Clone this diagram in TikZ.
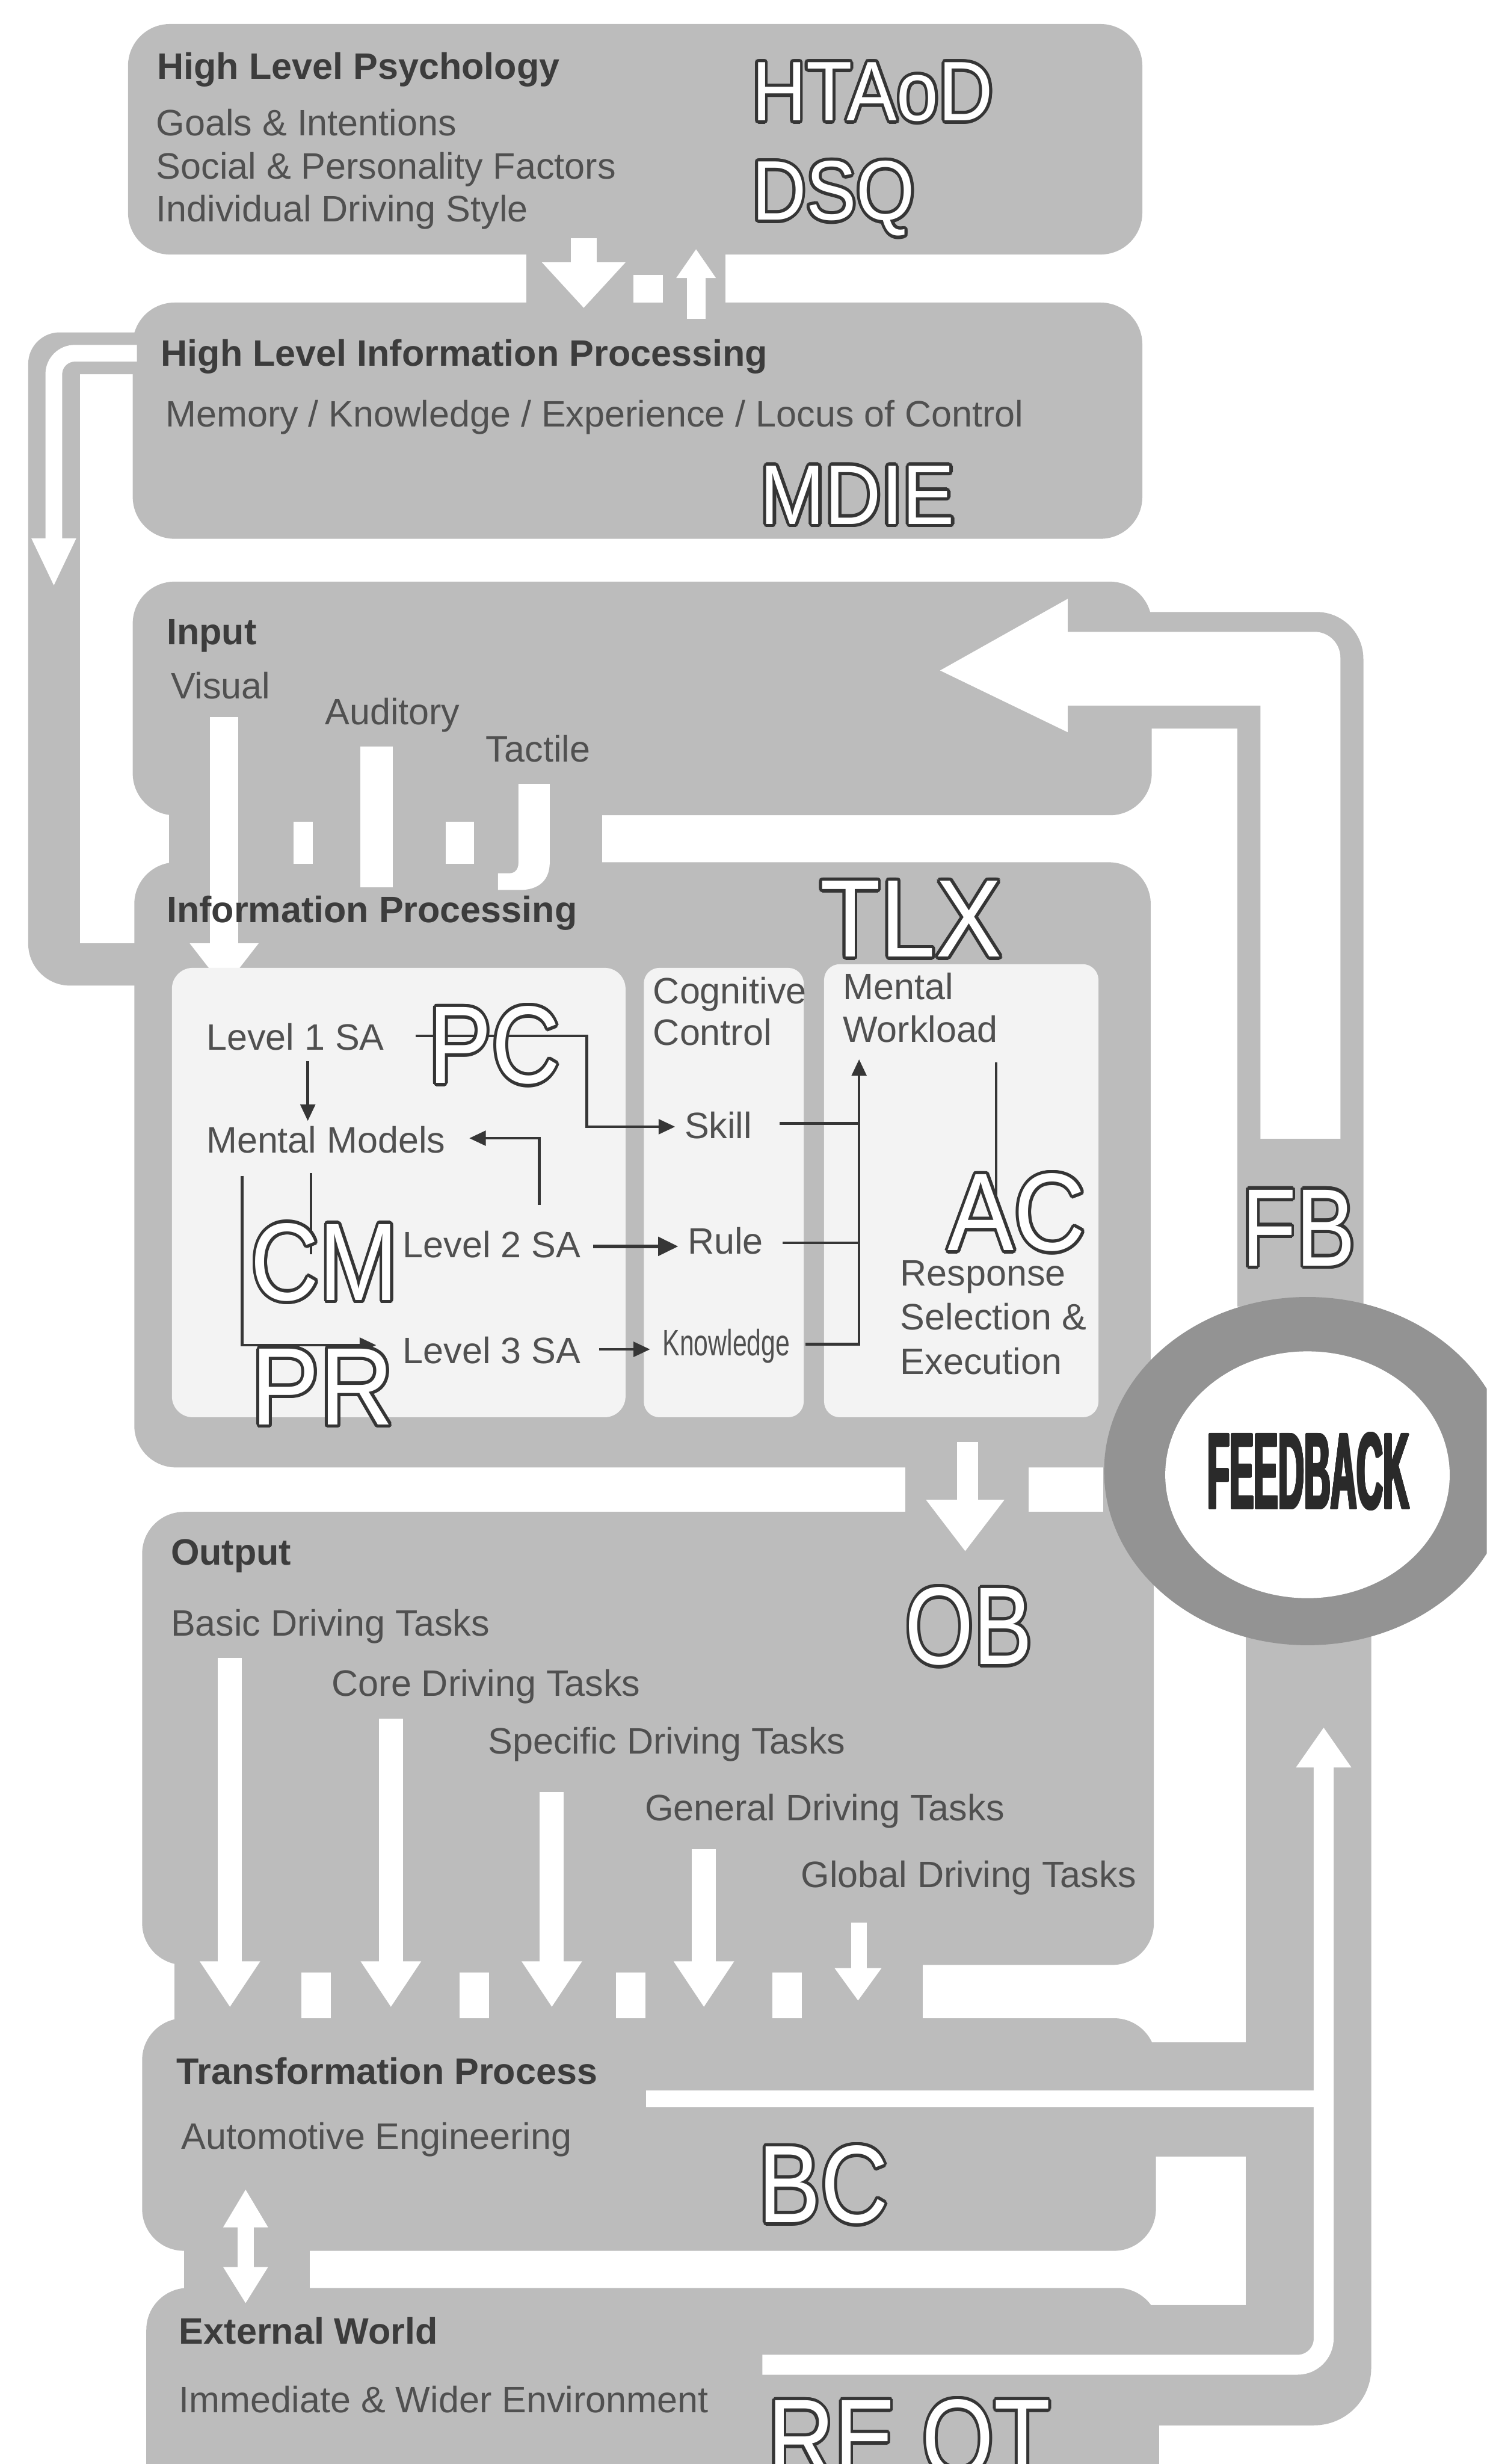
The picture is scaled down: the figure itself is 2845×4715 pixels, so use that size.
\documentclass[tikz,border=0pt]{standalone}
\usepackage{fontspec}
\setmainfont{Liberation Sans}
\usepackage{contour}
\usetikzlibrary{arrows.meta}
\definecolor{boxgrey}{HTML}{BCBCBC}
\definecolor{innerw}{HTML}{F3F3F3}
\definecolor{ringgrey}{HTML}{939393}
\definecolor{txt}{HTML}{505050}
\definecolor{ttltxt}{HTML}{3C3C3C}
\definecolor{lnk}{HTML}{363636}
\definecolor{outl}{HTML}{353535}
\definecolor{fbtxt}{HTML}{2A2A2A}
\contourlength{1.8pt}
\newcommand{\mkhollow}[2]{\scalebox{#1}[1]{\color{white}\contour{outl}{#2}}}
\begin{document}
\begin{tikzpicture}[x=0.01cm,y=-0.01cm,
  greybox/.style={fill=boxgrey, rounded corners=0.8cm},
  innerbox/.style={fill=innerw, rounded corners=0.4cm},
  lbl/.style={anchor=base west, inner sep=0pt, outer sep=0pt, text=txt, font=\fontsize{20}{24}\selectfont},
  ttl/.style={anchor=base west, inner sep=0pt, outer sep=0pt, text=ttltxt, font=\fontsize{20}{24}\selectfont\bfseries},
  biglbl/.style={anchor=base west, inner sep=0pt, outer sep=0pt, font=\fontsize{60}{60}\selectfont},
  midlbl/.style={anchor=base west, inner sep=0pt, outer sep=0pt, font=\fontsize{46}{46}\selectfont},
  conn/.style={draw=lnk, line width=1.5pt},
  arr/.style={conn, -{Triangle[length=9pt,width=8pt]}},
  bigarr/.style={draw=lnk, line width=2.2pt, -{Triangle[length=11pt,width=10pt]}},
  wshaft/.style={draw=white, line width=0.34cm}
]
\useasboundingbox (0,0) rectangle (2845,4715);
\clip (0,0) rectangle (2845,4715);

% ---------- grey shapes ----------
% left loop
\fill[boxgrey] (260,636) -- (114,636) .. controls (81,636) and (54,663) .. (54,696) -- (54,1806) .. controls (54,1850) and (90,1886) .. (134,1886) -- (300,1886) -- (300,1805) -- (153,1805) -- (153,716) -- (260,716) -- cycle;
% boxes and joins
\fill[greybox] (245,46) rectangle (2186,487);
\fill[boxgrey] (1007,470) rectangle (1388,600);
\fill[greybox] (254,579) rectangle (2186,1031);
\fill[greybox] (254,1113) rectangle (2204,1560);
\fill[boxgrey] (323,1500) rectangle (1152,1700);
\fill[greybox] (257,1650) rectangle (2202,2808);
\fill[boxgrey] (1732,2780) rectangle (1968,2920);
\fill[boxgrey] (2111,2780) rectangle (2202,2920);
\fill[greybox] (272,2893) rectangle (2208,3760);
\fill[boxgrey] (334,3700) rectangle (1766,3880);
\fill[greybox] (272,3862) rectangle (2212,4307);
\fill[boxgrey] (2150,3908) rectangle (2390,4127);
\fill[boxgrey] (352,4250) rectangle (593,4420);
\fill[greybox] (280,4378) rectangle (2218,4900);
% feedback channel (upper)
\fill[boxgrey] (2043,1171) -- (2519,1171) .. controls (2569,1171) and (2609,1211) .. (2609,1261) -- (2609,2500) -- (2368,2500) -- (2368,1394) -- (2043,1394) -- cycle;
% feedback channel (lower)
\fill[boxgrey] (2384,3080) -- (2624,3080) -- (2624,4531) .. controls (2624,4592) and (2575,4641) .. (2514,4641) -- (2150,4641) -- (2150,4411) -- (2384,4411) -- cycle;

% ---------- white arrows and gaps ----------
% psychology <-> high level processing
\fill[white] (1212,526) rectangle (1269,579);
\fill[white] (1092,456) rectangle (1142,510);
\fill[white] (1037,502) -- (1197,502) -- (1117,589) -- cycle;
\fill[white] (1315,525) rectangle (1350,610);
\fill[white] (1294,532) -- (1370,532) -- (1332,477) -- cycle;
% left loop arrow
\draw[draw=white, line width=0.32cm, rounded corners=0.4cm] (262,676) -- (103,676) -- (103,1040);
\fill[white] (60,1030) -- (146,1030) -- (103,1120) -- cycle;
% input -> information processing
\fill[white] (402,1372) rectangle (456,1815);
\fill[white] (363,1805) -- (495,1805) -- (429,1890) -- cycle;
\fill[white] (690,1428) rectangle (752,1698);
\fill[white] (992,1500) -- (1052,1500) -- (1052,1650) .. controls (1052,1685) and (1030,1703) .. (995,1703) -- (953,1703) -- (953,1671) -- (975,1671) .. controls (986,1671) and (992,1663) .. (992,1652) -- cycle;
\fill[white] (562,1572) rectangle (599,1653);
\fill[white] (853,1572) rectangle (907,1653);
% feedback arrow into input
\fill[white] (2043,1209) -- (2515,1209) .. controls (2543,1209) and (2565,1231) .. (2565,1259) -- (2565,2179) -- (2412,2179) -- (2412,1350) -- (2043,1350) -- cycle;
\fill[white] (2043,1146) -- (1799,1283) -- (2043,1401) -- cycle;
% information processing -> output
\fill[white] (1831,2759) rectangle (1872,2880);
\fill[white] (1772,2870) -- (1922,2870) -- (1847,2968) -- cycle;
% output -> transformation
\foreach \cx/\ty in {440/3172, 748/3289, 1056/3429, 1347/3539}{
  \fill[white] (\cx-23,\ty) rectangle (\cx+23,3760);
  \fill[white] (\cx-58,3753) -- (\cx+58,3753) -- (\cx,3840) -- cycle;
}
\fill[white] (1629,3679) rectangle (1659,3770);
\fill[white] (1597,3766) -- (1687,3766) -- (1642,3828) -- cycle;
\foreach \sx in {577, 880, 1179, 1478}{
  \fill[white] (\sx,3775) rectangle (\sx+56,3862);
}
% transformation <-> external world
\fill[white] (455,4250) rectangle (486,4350);
\fill[white] (427,4262) -- (513,4262) -- (470,4190) -- cycle;
\fill[white] (427,4338) -- (513,4338) -- (470,4407) -- cycle;
% lower feedback arrow
\draw[draw=white, line width=0.32cm] (1236,4016) -- (2533,4016);
\draw[draw=white, line width=0.38cm, rounded corners=0.5cm] (2533,3370) -- (2533,4525) -- (1459,4525);
\fill[white] (2480,3382) -- (2586,3382) -- (2533,3306) -- cycle;

% ---------- inner boxes ----------
\fill[innerbox] (329,1852) rectangle (1197,2712);
\fill[innerbox, rounded corners=0.3cm] (1232,1852) rectangle (1538,2712);
\fill[innerbox, rounded corners=0.3cm] (1577,1845) rectangle (2102,2712);

% ---------- feedback ring ----------
\fill[ringgrey] (2502,2815) ellipse [x radius=3.89cm, y radius=3.33cm];
\fill[white] (2502,2822) ellipse [x radius=2.72cm, y radius=2.36cm];
\node[anchor=base, inner sep=0pt, text=fbtxt, font=\fontsize{59}{59}\selectfont\bfseries] (fbk) at (2504,2887) {\contourlength{0.6pt}\contour{fbtxt}{\scalebox{0.335}[1]{FEEDBACK}}};

% ---------- texts ----------
\node[ttl] (hlp) at (301,151) {High Level Psychology};
\node[lbl] (goals) at (299,260) {Goals \& Intentions};
\node[lbl] (social) at (299,342) {Social \& Personality Factors};
\node[lbl] (dstyle) at (299,424) {Individual Driving Style};
\node[midlbl] (htaod) at (1439,231) {\mkhollow{0.89}{HTAoD}};
\node[midlbl] (dsq) at (1439,421) {\mkhollow{0.89}{DSQ}};

\node[ttl] (hlip) at (308,701) {High Level Information Processing};
\node[lbl] (mem) at (317,817) {Memory / Knowledge / Experience / Locus of Control};
\node[midlbl] (mdie) at (1455,1003) {\mkhollow{0.92}{MDIE}};

\node[ttl] (inp) at (319,1233) {Input};
\node[lbl] (vis) at (327,1337) {Visual};
\node[lbl] (aud) at (622,1387) {Auditory};
\node[lbl] (tac) at (930,1458) {Tactile};

\node[ttl] (ip) at (319,1765) {Information Processing};
\node[biglbl] (tlx) at (1569,1831) {\mkhollow{0.9}{TLX}};

% connectors inside information processing (drawn before letters)
\coordinate (k1a) at (795,1982);
\coordinate (k1b) at (1123,1982);
\coordinate (k1c) at (1123,2156);
\coordinate (k1d) at (1292,2156);
\coordinate (k2a) at (589,2030);
\coordinate (k2b) at (589,2145);
\coordinate (k3a) at (1032,2306);
\coordinate (k3b) at (1032,2178);
\coordinate (k3c) at (898,2178);
\coordinate (k4a) at (595,2245);
\coordinate (k4b) at (595,2400);
\coordinate (k5a) at (463,2250);
\coordinate (k5b) at (463,2574);
\coordinate (k5c) at (720,2574);
\coordinate (k6a) at (1135,2385);
\coordinate (k6b) at (1298,2385);
\coordinate (k7a) at (1147,2582);
\coordinate (k7b) at (1244,2582);
\coordinate (k8a) at (1492,2150);
\coordinate (k8b) at (1644,2150);
\coordinate (k9a) at (1498,2378);
\coordinate (k9b) at (1644,2378);
\coordinate (k10a) at (1541,2572);
\coordinate (k10b) at (1644,2572);
\coordinate (k10c) at (1644,2027);
\coordinate (k11a) at (1906,2033);
\coordinate (k11b) at (1906,2290);

\draw[arr] (k1a) -- (k1b) -- (k1c) -- (k1d);
\draw[arr] (k2a) -- (k2b);
\draw[arr] (k3a) -- (k3b) -- (k3c);
\draw[conn] (k4a) -- (k4b);
\draw[arr] (k5a) -- (k5b) -- (k5c);
\draw[bigarr] (k6a) -- (k6b);
\draw[arr] (k7a) -- (k7b);
\draw[conn] (k8a) -- (k8b);
\draw[conn] (k9a) -- (k9b);
\draw[arr] (k10a) -- (k10b) -- (k10c);
\draw[conn] (k11a) -- (k11b);

\node[lbl] (l1) at (395,2009) {Level 1 SA};
\node[lbl] (mm) at (395,2206) {Mental Models};
\node[lbl] (l2) at (771,2406) {Level 2 SA};
\node[lbl] (l3) at (771,2609) {Level 3 SA};
\node[lbl] (cog) at (1250,1921) {Cognitive};
\node[lbl] (ctl) at (1250,2000) {Control};
\node[lbl] (skill) at (1310,2178) {Skill};
\node[lbl] (rule) at (1316,2400) {Rule};
\node[lbl] (know) at (1268,2594) {\scalebox{0.7}[1]{Knowledge}};
\node[lbl] (ment) at (1613,1912) {Mental};
\node[lbl] (wl) at (1613,1994) {Workload};
\node[lbl] (resp) at (1723,2460) {Response};
\node[lbl] (sel) at (1723,2545) {Selection \&};
\node[lbl] (exe) at (1723,2630) {Execution};

\node[biglbl] (pc) at (820,2073) {\mkhollow{0.86}{PC}};
\node[biglbl] (cm) at (480,2488) {\mkhollow{0.86}{CM}};
\node[biglbl] (pr) at (481,2726) {\mkhollow{0.93}{PR}};
\node[biglbl] (ac) at (1814,2393) {\mkhollow{0.9}{AC}};
\node[biglbl] (fbl) at (2376,2422) {\mkhollow{0.81}{FB}};

\node[ttl] (outp) at (327,2995) {Output};
\node[lbl] (basic) at (327,3130) {Basic Driving Tasks};
\node[lbl] (core) at (635,3246) {Core Driving Tasks};
\node[lbl] (spec) at (934,3356) {Specific Driving Tasks};
\node[lbl] (gen) at (1234,3484) {General Driving Tasks};
\node[lbl] (glob) at (1533,3612) {Global Driving Tasks};
\node[biglbl] (ob) at (1732,3185) {\mkhollow{0.8}{OB}};

\node[ttl] (tp) at (338,3988) {Transformation Process};
\node[lbl] (ae) at (347,4112) {Automotive Engineering};
\node[biglbl] (bc) at (1451,4253) {\mkhollow{0.85}{BC}};

\node[ttl] (ew) at (343,4485) {External World};
\node[lbl] (iwe) at (343,4617) {Immediate \& Wider Environment};
\node[biglbl] (reot) at (1469,4739) {\mkhollow{0.84}{RE OT}};
\end{tikzpicture}
\end{document}
